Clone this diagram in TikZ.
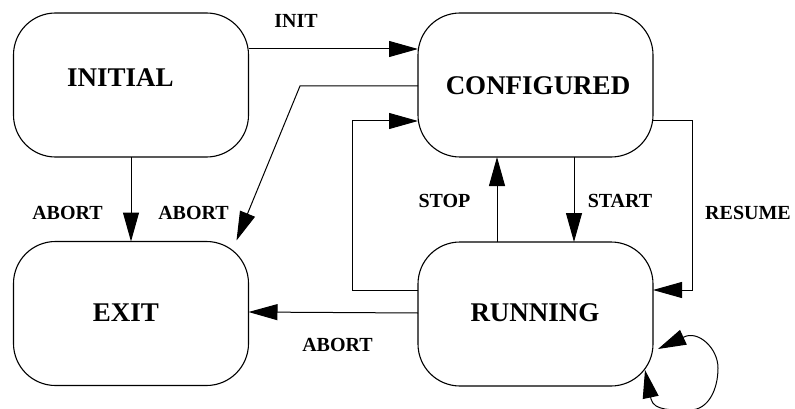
\documentclass[tikz,border=0pt]{standalone}
\usepackage{fontspec}
\setmainfont{Liberation Serif}
\usetikzlibrary{arrows.meta,calc}
\begin{document}
\begin{tikzpicture}[x=1pt,y=-1pt,
  state/.style={draw, line width=1.1pt, rounded corners=42pt,
    minimum width=235pt, minimum height=144pt, inner sep=0pt, outer sep=0pt},
  statetext/.style={font=\fontsize{27}{30}\selectfont\bfseries, inner sep=0pt},
  edgelabel/.style={font=\fontsize{20}{24}\selectfont\bfseries, inner sep=0pt},
  conn/.style={line width=1pt, -{Triangle[length=29pt,width=16pt]}},
  bothconn/.style={line width=1pt, {Triangle[length=28pt,width=16pt]}-{Triangle[length=28pt,width=16pt]}},
]
\useasboundingbox (0,0) rectangle (795,409);

% states
\node[state] (initial) at (131,85) {};
\node[state] (exit)    at (131,313.5) {};
\node[state] (conf)    at (535.5,85) {};
\node[state] (run)     at (535.5,314) {};

\node[statetext] (tInitial) at (120.5,78) {INITIAL};
\node[statetext] (tExit)    at (126,313) {EXIT};
\node[statetext] (tConf)    at (538,85.5) {CONFIGURED};
\node[statetext] (tRun)     at (535,313) {RUNNING};

% INIT
\draw[conn] ([yshift=36pt]initial.east) -- ([yshift=36pt]conf.west);
% ABORT from INITIAL
\draw[conn] (initial.south) -- (exit.north);
% ABORT from CONFIGURED
\coordinate (abBend) at (300,86);
\coordinate (abTip) at ($(exit.north east)+(-12,-1)$);
\draw[conn] ([yshift=-1pt]conf.west) -- (abBend) -- (abTip);
% RUNNING back to CONFIGURED on the left
\draw[conn] ([yshift=24pt]run.west) -- ++(-66,0) |- ([yshift=-36pt]conf.west);
% ABORT from RUNNING
\draw[conn] ([yshift=1pt]run.west) -- ([yshift=1.5pt]exit.east);
% STOP / START
\draw[conn] ([xshift=-38.5pt]run.north) -- ([xshift=-38.5pt]conf.south);
\draw[conn] ([xshift=38.5pt]conf.south) -- ([xshift=38.5pt]run.north);
% RESUME
\draw[conn] ([yshift=-36pt]conf.east) -- ++(39,0) |- ([yshift=24pt]run.east);

% self loop on RUNNING
\coordinate (loopTipA) at ($(run.center)+(122.5,35)$);
\coordinate (loopTipB) at ($(run.center)+(109.5,56)$);
\draw[bothconn] (loopTipB) -- (651,399)
  .. controls (654,411) and (672,410) .. (690,410)
  .. controls (708,410) and (718,390) .. (718,368)
  .. controls (718,348) and (698,330) .. (684,337)
  -- (loopTipA);

% transition labels
\node[edgelabel] (lInit)   at (296,20.5) {INIT};
\node[edgelabel] (lAbortA) at (67.5,212.5) {ABORT};
\node[edgelabel] (lAbortB) at (193.5,212.5) {ABORT};
\node[edgelabel] (lAbortC) at (337.5,345) {ABORT};
\node[edgelabel] (lStop)   at (444.5,201) {STOP};
\node[edgelabel] (lStart)  at (620,201) {START};
\node[edgelabel] (lResume) at (748,212.5) {RESUME};
\end{tikzpicture}
\end{document}
